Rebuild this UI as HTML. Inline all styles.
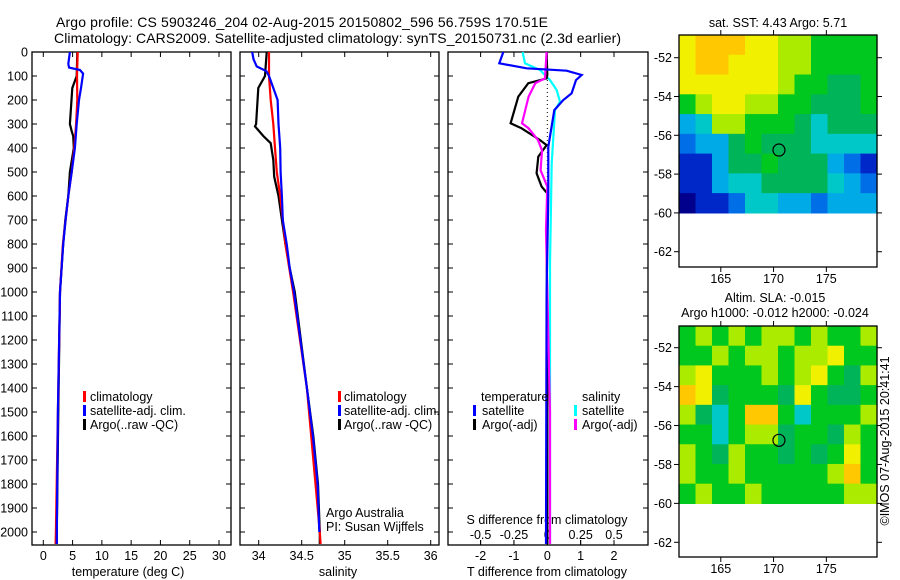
<!DOCTYPE html>
<html><head><meta charset="utf-8"><style>
html,body{margin:0;padding:0;background:#fff;}
svg{display:block;font-family:"Liberation Sans",sans-serif;}
</style></head><body>
<svg id="fig" width="900" height="580" viewBox="0 0 900 580">
<text x="56" y="27" font-size="14" textLength="492">Argo profile: CS 5903246_204 02-Aug-2015 20150802_596 56.759S 170.51E</text>
<text x="54" y="43" font-size="14" textLength="567">Climatology: CARS2009. Satellite-adjusted climatology: synTS_20150731.nc (2.3d earlier)</text>
<g id="g"></g>
</svg>
<script>
// ---- profile data (depth m) ----
const tArgoDepth=[0,100,150,300,330,350,400,500,600,700,800,1000,1500,2000,2050];
const tArgoVal=[5.8,5.7,4.95,4.55,4.85,5.1,5.2,4.55,4.27,3.76,3.4,2.85,2.56,2.3,2.3];
const tSatDepth=[0,50,65,75,90,150,200,300,400,500,600,700,800,1000,1500,2000,2050];
const tSatVal=[4.55,4.27,4.4,6.26,6.8,6.43,6.1,5.7,5.4,4.85,4.27,3.8,3.4,2.85,2.5,2.3,2.3];
const tClimDepth=[0,100,200,300,400,500,600,700,800,1000,1500,2000,2050];
const tClimVal=[5.87,5.75,5.8,5.6,5.3,4.85,4.27,3.8,3.35,2.85,2.5,2.15,2.1];
const sArgoDepth=[0,100,150,300,310,350,380,450,520,600,700,800,900,1000,1400,1600,1800,2000,2050];
const sArgoVal=[34.093,34.073,33.995,33.97,33.957,34.053,34.14,34.17,34.18,34.23,34.27,34.31,34.36,34.42,34.56,34.635,34.69,34.71,34.71];
const sSatDepth=[0,30,60,80,100,150,200,300,400,500,600,700,800,900,1000,1400,1600,1800,2000];
const sSatVal=[33.925,33.94,33.977,34.09,34.12,34.17,34.22,34.23,34.25,34.255,34.27,34.28,34.325,34.36,34.41,34.56,34.63,34.685,34.705];
const sClimDepth=[0,100,200,300,400,500,600,700,800,1000,1400,2000,2050];
const sClimVal=[34.12,34.12,34.14,34.17,34.19,34.21,34.25,34.28,34.31,34.40,34.56,34.71,34.72];
const dTSatDepth=[0,47,68,78,96,117,172,200,242,395,603,1000,2050];
const dTSatVal=[-1.32,-1.44,-0.62,0.58,1.03,0.86,0.73,0.48,0.21,0.03,0.03,-0.02,-0.04];
const dSSatDepth=[0,47,75,117,158,207,242,464,880,2050];
const dSSatVal=[-0.185,-0.167,-0.055,0.02,0.07,0.095,0.058,0.033,0.02,0.02];
const dTArgoDepth=[0,95,110,130,186,297,318,367,388,436,505,561,589,742,1200,2050];
const dTArgoVal=[-0.02,0.0,-0.02,-0.57,-0.87,-1.1,-0.77,-0.22,-0.02,-0.27,-0.32,-0.17,0.0,-0.02,0.0,0.0];
const dSArgoDepth=[0,110,130,186,297,318,367,410,493,561,742,1500,2050];
const dSArgoVal=[-0.005,-0.017,-0.09,-0.14,-0.19,-0.14,-0.07,-0.04,-0.05,0.0,-0.01,0.02,0.02];
const depthTicks=[0,100,200,300,400,500,600,700,800,900,1000,1100,1200,1300,1400,1500,1600,1700,1800,1900,2000];
const tempTicks=[0,5,10,15,20,25,30];
const salTicks=[34,34.5,35,35.5,36];
const salTickLabels=["34","34.5","35","35.5","36"];
const dTTicks=[-2,-1,0,1,2];
const dSTicks=[-0.5,-0.25,0,0.25,0.5];
const dSTickLabels=["-0.5","-0.25","0","0.25","0.5"];
// ---- map data (0-10 colour index, rows north->south, ~1 deg each from -50.85 to -60) ----
const sstGrid=[
[8,9,9,9,8,8,7,7,6,6,6,6],
[8,9,9,8,8,8,7,7,6,6,6,6],
[8,8,8,8,8,8,7,6,6,5,5,6],
[6,7,8,8,7,7,6,6,5,5,5,6],
[3,4,7,7,6,6,6,5,4,5,5,5],
[2,3,3,5,6,5,5,5,4,4,4,4],
[1,1,3,5,5,6,5,5,5,3,2,1],
[1,1,3,4,4,5,5,5,5,4,3,2],
[0,1,1,2,4,4,3,3,2,3,3,3]];
const slaGrid=[
[6,7,6,7,6,7,7,6,7,6,6,7],
[6,6,7,6,7,7,6,7,7,8,6,6],
[7,8,6,6,6,7,6,7,8,6,5,7],
[9,8,5,6,6,6,5,8,6,5,5,6],
[7,5,4,6,9,9,6,4,6,6,6,7],
[6,6,4,6,7,7,5,6,6,5,7,6],
[7,6,5,7,6,6,5,6,5,6,8,6],
[7,6,6,7,6,6,6,6,6,7,9,6],
[6,7,6,6,7,6,6,6,6,6,7,7]];
const latTicks=[-52,-54,-56,-58,-60,-62];
const lonTicks=[165,170,175];
const argoLon=170.51, argoLat=-56.759;

const NS="http://www.w3.org/2000/svg";
const G=document.getElementById('g');
function mk(tag,attrs,parent,txt){const e=document.createElementNS(NS,tag);for(const k in attrs)e.setAttribute(k,attrs[k]);if(txt!==undefined)e.textContent=txt;(parent||G).appendChild(e);return e;}
const yD=d=>52+d*0.24;
function lin(d0,d1,p0,p1){return v=>p0+(v-d0)*(p1-p0)/(d1-d0);}
const P=[{x0:32,x1:231,sx:lin(0,30,43.3,219)},{x0:240,x1:439,sx:lin(34,36,258.7,430.7)},{x0:448,x1:648,sx:lin(0,2,547.3,614)}];
const sS=lin(0,0.5,547.3,614);

function frame(p,name){
  const r=mk('rect',{x:p.x0,y:52,width:p.x1-p.x0,height:493,fill:'none',stroke:'#000','stroke-width':1.3});
  
  
  depthTicks.forEach(d=>{
    const t1=mk('line',{x1:p.x0,x2:p.x0+5,y1:yD(d),y2:yD(d),stroke:'#000'});
    
    
    const t2=mk('line',{x1:p.x1,x2:p.x1-5,y1:yD(d),y2:yD(d),stroke:'#000'});
    
    
  });
}
function line(p,sx,depths,vals,color,name){
  const pts=depths.map((d,i)=>sx(vals[i]).toFixed(1)+','+yD(d).toFixed(1)).join(' ');
  const e=mk('polyline',{points:pts,fill:'none',stroke:color,'stroke-width':2.2,'stroke-linejoin':'miter'});
  
  
}
function xtick(p,x,label,y,name,top){
  const t=mk('line',{x1:x,x2:x,y1:545,y2:540,stroke:'#000'});
  
  
  if(top){const t2=mk('line',{x1:x,x2:x,y1:52,y2:57,stroke:'#000'});
  
  }
  const l=mk('text',{x:x,y:y,'font-size':12.5,'text-anchor':'middle'},G,label);
  
  
}
function txt(x,y,s,name,anchor,size){const e=mk('text',{x:x,y:y,'font-size':size||12.5,'text-anchor':anchor||'start'},G,s);
  
  return e;}
function legMark(x,y,color,name){const e=mk('rect',{x:x,y:y-10,width:3,height:11,fill:color});
  
  }

frame(P[0],'temperature-panel');frame(P[1],'salinity-panel');frame(P[2],'difference-panel');
depthTicks.forEach(d=>{txt(28,yD(d)+4.5,String(d),'depth-tick-label','end');});
tempTicks.forEach(v=>xtick(P[0],P[0].sx(v),String(v),560,'temperature-axis',true));
salTicks.forEach((v,i)=>xtick(P[1],P[1].sx(v),salTickLabels[i],560,'salinity-axis',true));
dTTicks.forEach(v=>xtick(P[2],P[2].sx(v),String(v),560,'t-difference-axis',true));
dSTicks.forEach((v,i)=>{const e=mk('line',{x1:sS(v),x2:sS(v),y1:540,y2:545,stroke:'#000'});
  
  
  txt(sS(v),539,dSTickLabels[i],'s-difference-tick-label','middle');});
txt(128,576,'temperature (deg C)','temperature-axis-title','middle');
txt(338,576,'salinity','salinity-axis-title','middle');
txt(547,576,'T difference from climatology','t-difference-axis-title','middle');
txt(547,524,'S difference from climatology','s-difference-axis-title','middle');

const z=mk('line',{x1:P[2].sx(0),x2:P[2].sx(0),y1:52,y2:545,stroke:'#000','stroke-dasharray':'1,3'});



line(P[0],P[0].sx,tArgoDepth,tArgoVal,'#000','temperature-argo-line');
line(P[0],P[0].sx,tClimDepth,tClimVal,'#f00','temperature-climatology-line');
line(P[0],P[0].sx,tSatDepth,tSatVal,'#00f','temperature-satellite-line');
line(P[1],P[1].sx,sArgoDepth,sArgoVal,'#000','salinity-argo-line');
line(P[1],P[1].sx,sClimDepth,sClimVal,'#f00','salinity-climatology-line');
line(P[1],P[1].sx,sSatDepth,sSatVal,'#00f','salinity-satellite-line');
line(P[2],sS,dSSatDepth,dSSatVal,'#0ff','s-diff-satellite-line');
line(P[2],P[2].sx,dTArgoDepth,dTArgoVal,'#000','t-diff-argo-line');
line(P[2],sS,dSArgoDepth,dSArgoVal,'#f0f','s-diff-argo-line');
line(P[2],P[2].sx,dTSatDepth,dTSatVal,'#00f','t-diff-satellite-line');

[[0,83,90],[1,338,344]].forEach(([i,mx,tx])=>{
  legMark(mx,401,'#f00','legend-climatology-marker');txt(tx,401,'climatology','legend-climatology');
  legMark(mx,415,'#00f','legend-satellite-marker');txt(tx,415,'satellite-adj. clim.','legend-satellite');
  legMark(mx,429,'#000','legend-argo-marker');txt(tx,429,'Argo(..raw -QC)','legend-argo');
});
txt(481,401,'temperature','legend-temperature-heading');
legMark(473,415,'#00f','legend-t-satellite-marker');txt(482,415,'satellite','legend-t-satellite');
legMark(473,429,'#000','legend-t-argo-marker');txt(482,429,'Argo(-adj)','legend-t-argo');
txt(582,401,'salinity','legend-salinity-heading');
legMark(574,415,'#0ff','legend-s-satellite-marker');txt(582,415,'satellite','legend-s-satellite');
legMark(574,429,'#f0f','legend-s-argo-marker');txt(582,429,'Argo(-adj)','legend-s-argo');
txt(326,517,'Argo Australia','credit-argo-australia');
txt(326,531,'PI: Susan Wijffels','credit-pi');

const cmap=[[0,0,140],[0,40,200],[0,110,230],[0,170,230],[0,200,200],[0,180,90],[0,200,30],[170,235,0],[240,240,0],[255,200,0],[245,150,20]];
function drawMap(grid,top,bottom,lat52y,lat62y,name){
  const lx=lin(161.04,179.8,679,877);
  const ly=lin(-52,-62,lat52y,lat62y);
  const rows=grid.length, cols=grid[0].length;
  const x0=679,x1=877,yt=top,yb=ly(-60);
  const cw=(x1-x0)/cols, ch=(yb-yt)/rows;
  grid.forEach((row,r)=>row.forEach((v,c)=>{
    const col=cmap[v];
    const e=mk('rect',{x:(x0+c*cw).toFixed(2),y:(yt+r*ch).toFixed(2),width:(cw+0.6).toFixed(2),height:(ch+0.6).toFixed(2),fill:'rgb('+col.join(',')+')'});
    
    
  }));
  const f=mk('rect',{x:679,y:top,width:198,height:bottom-top,fill:'none',stroke:'#000','stroke-width':1.3});
  
  
  latTicks.forEach(v=>{
    const t=mk('line',{x1:679,x2:674,y1:ly(v),y2:ly(v),stroke:'#000'});
    
    
    const t2=mk('line',{x1:877,x2:882,y1:ly(v),y2:ly(v),stroke:'#000'});
    
    
    txt(672,ly(v)+4.5,String(v),name+'-lat-label','end');
  });
  lonTicks.forEach(v=>{
    const t=mk('line',{x1:lx(v),x2:lx(v),y1:top,y2:top-5,stroke:'#000'});
    
    
    const t2=mk('line',{x1:lx(v),x2:lx(v),y1:bottom,y2:bottom+5,stroke:'#000'});
    
    
    txt(lx(v),bottom+16,String(v),name+'-lon-label','middle');
  });
  const c=mk('circle',{cx:lx(argoLon),cy:ly(argoLat),r:6,fill:'none',stroke:'#000','stroke-width':1.2});
  
  
}
drawMap(sstGrid,35,267,57.7,251.7,'sst-map');
drawMap(slaGrid,326,557,347.7,542.3,'sla-map');
txt(778,27,'sat. SST: 4.43 Argo: 5.71','sst-map-title','middle');
txt(775,302,'Altim. SLA: -0.015','sla-map-title-1','middle');
txt(775,317,'Argo h1000: -0.012 h2000: -0.024','sla-map-title-2','middle');
const im=txt(0,0,'©IMOS 07-Aug-2015 20:41:41','imos-timestamp','middle',12.5);
im.setAttribute('transform','translate(889,441) rotate(-90)');
</script>
</body></html>
